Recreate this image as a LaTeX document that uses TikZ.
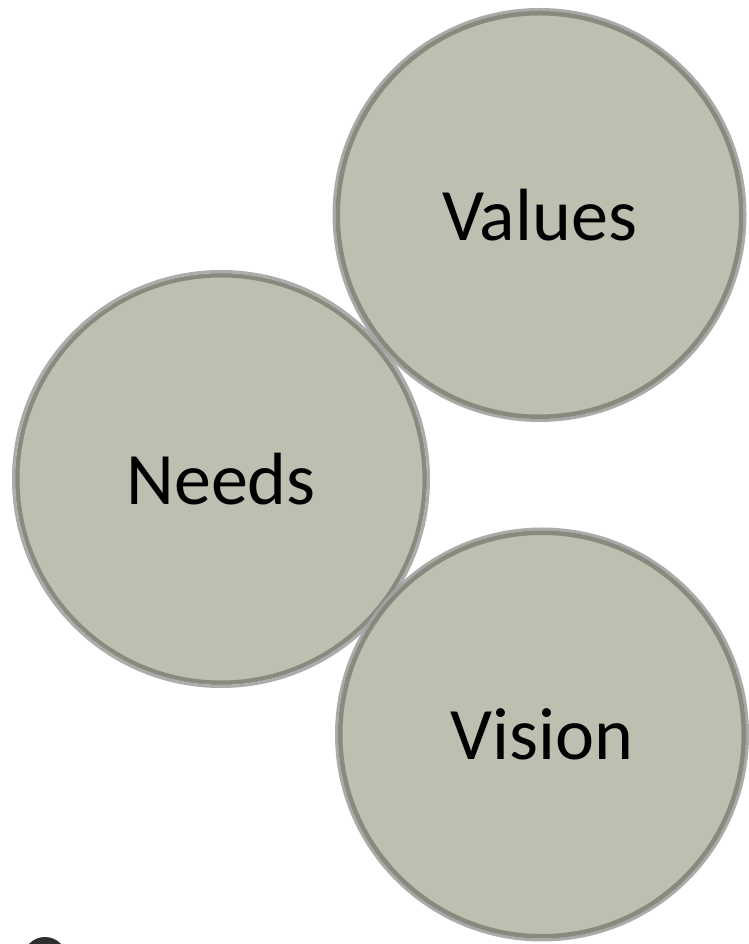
\documentclass[tikz,border=0pt]{standalone}
\usepackage{fontspec}
\setmainfont{Carlito}
\begin{document}
\begin{tikzpicture}[x=1pt,y=1pt,
  bubble/.style={circle, fill=bubblefill, minimum size=410pt, inner sep=0pt,
    font=\fontsize{74}{80}\selectfont, text=black},
  innerring/.style={draw=ringdark, line width=4.5pt, opacity=0.85},
  outerring/.style={draw=ringlight, line width=3pt, opacity=0.9}]
\definecolor{bubblefill}{HTML}{BEBFB1}
\definecolor{ringdark}{HTML}{7E8174}
\definecolor{ringlight}{HTML}{A3A3A3}
\definecolor{darkblob}{HTML}{2E2E2E}
\useasboundingbox (0,0) rectangle (748,944);
\fill[white] (0,0) rectangle (748,944);
% partial dark shape at bottom-left
\fill[darkblob] (45,-15) circle (22);
% bubbles
\node[bubble] (values) at (539.5,729) {Values};
\node[bubble] (needs) at (221,465) {Needs};
\node[bubble] (vision) at (542,209.5) {Vision};
% rings
\foreach \n/\r in {values/207, needs/209, vision/207}{
  \draw[innerring] (\n.center) circle (\r-5.25);
  \draw[outerring] (\n.center) circle (\r-1.5);
}
\end{tikzpicture}
\end{document}
